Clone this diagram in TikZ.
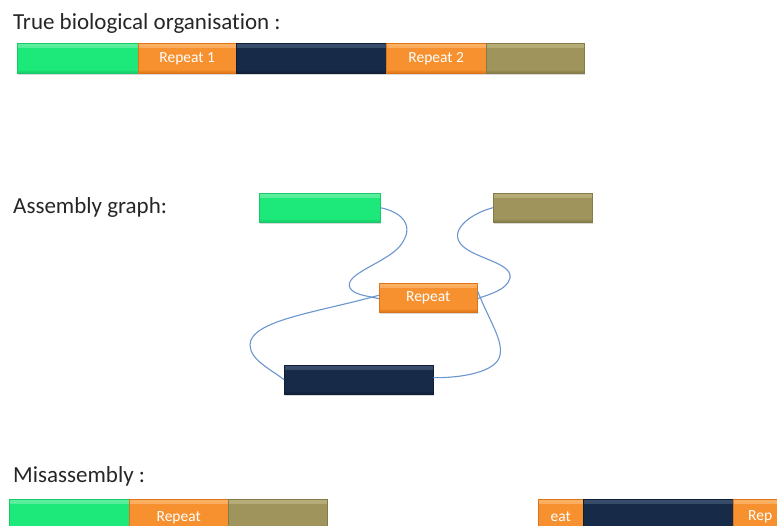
\documentclass[tikz,border=0pt]{standalone}
\usepackage{fontspec}
\setmainfont[Ligatures=NoCommon]{Carlito}
\usetikzlibrary{shadows}

\definecolor{cgreen}{HTML}{1DE87A}
\definecolor{cgreenT}{HTML}{5EEE9E}
\definecolor{cgreenB}{HTML}{17C967}
\definecolor{corange}{HTML}{F7912F}
\definecolor{corangeT}{HTML}{FBB165}
\definecolor{corangeB}{HTML}{DD7418}
\definecolor{cnavy}{HTML}{172A47}
\definecolor{cnavyT}{HTML}{3A4E6E}
\definecolor{cnavyB}{HTML}{101E35}
\definecolor{colive}{HTML}{9E945C}
\definecolor{coliveT}{HTML}{B6AD78}
\definecolor{coliveB}{HTML}{857B48}
\definecolor{clink}{HTML}{6A96CF}

\tikzset{
  seg/.style n args={3}{rectangle, inner sep=0pt, minimum height=30pt, anchor=north west,
    text=white, font=\fontsize{15.5}{18}\selectfont, text height=11pt, text depth=3pt,
    fill=#1, draw=#3, line width=0.4pt,
    drop shadow={shadow xshift=1.2pt, shadow yshift=-2.2pt, opacity=0.3},
    path picture={
      \shade[top color=#2, bottom color=#1]
        (path picture bounding box.north west) rectangle ([yshift=-4pt]path picture bounding box.north east);
      \shade[top color=#1, bottom color=#3]
        ([yshift=4pt]path picture bounding box.south west) rectangle (path picture bounding box.south east);
    }},
  greenseg/.style={seg={cgreen}{cgreenT}{cgreenB}},
  orangeseg/.style={seg={corange}{corangeT}{corangeB}},
  navyseg/.style={seg={cnavy}{cnavyT}{cnavyB}},
  oliveseg/.style={seg={colive}{coliveT}{coliveB}},
  heading/.style={anchor=base west, inner sep=0pt, text=black!85, font=\fontsize{23}{28}\selectfont},
  link/.style={draw=clink, line width=1.1pt}
}

\begin{document}
\begin{tikzpicture}[x=1pt, y=-1pt]
\useasboundingbox (0,0) rectangle (777,526);
\clip (0,0) rectangle (777,526);

% --- true organisation ---
\node[heading] (h1) at (13,30) {True biological organisation :};
\node[greenseg,  minimum width=121pt] (a1) at (17,43)  {};
\node[orangeseg, minimum width=98pt]  (a2) at (138,43) {Repeat 1};
\node[navyseg,   minimum width=150pt] (a3) at (236,43) {};
\node[orangeseg, minimum width=100pt] (a4) at (386,43) {Repeat 2};
\node[oliveseg,  minimum width=98pt]  (a5) at (486,43) {};

% --- assembly graph ---
\node[heading] (h2) at (13,214) {Assembly graph:};
\node[greenseg,  minimum width=121pt, minimum height=29pt] (g)  at (259,193) {};
\node[oliveseg,  minimum width=99pt,  minimum height=29pt] (o)  at (493,193) {};
\node[orangeseg, minimum width=98pt,  minimum height=29pt] (r)  at (379,283) {Repeat};
\node[navyseg,   minimum width=149pt, minimum height=29pt] (n)  at (284,365) {};

\draw[link] (g.east) .. controls (402,212) and (416,226) .. (400,246)
  .. controls (386,263) and (343,274) .. (350,288)
  .. controls (354,295) and (368,296) .. ([yshift=-1pt]r.west);
\draw[link] (o.west) .. controls (472,213) and (450,229) .. (460,243)
  .. controls (470,258) and (513,262) .. (510,278)
  .. controls (507,290) and (490,294) .. ([yshift=-1pt]r.east);
\draw[link] ([yshift=2.5pt]r.west) .. controls (320,312) and (250,320) .. (250,345)
  .. controls (250,360) and (272,370) .. (n.west);
\draw[link] ([yshift=7pt]r.east) .. controls (490,322) and (503,340) .. (500,355)
  .. controls (497,372) and (462,378) .. ([yshift=2pt]n.east);

% --- misassembly ---
\node[heading] (h3) at (13,483) {Misassembly :};
\node[greenseg,  minimum width=120pt, minimum height=36pt] (m1) at (9,499)   {};
\node[orangeseg, minimum width=99pt,  minimum height=36pt] (m2) at (129,499) {Repeat};
\node[oliveseg,  minimum width=99pt,  minimum height=36pt] (m3) at (228,499) {};
\node[orangeseg, minimum width=45pt,  minimum height=36pt] (m4) at (538,499) {eat};
\node[navyseg,   minimum width=150pt, minimum height=36pt] (m5) at (583,499) {};
\node[orangeseg, minimum width=70pt,  minimum height=36pt] (m6) at (733,499) {};
\node[anchor=base west, inner sep=0pt, text=white, font=\fontsize{15.5}{18}\selectfont] (m6t) at (748,521) {Rep};
\end{tikzpicture}
\end{document}
